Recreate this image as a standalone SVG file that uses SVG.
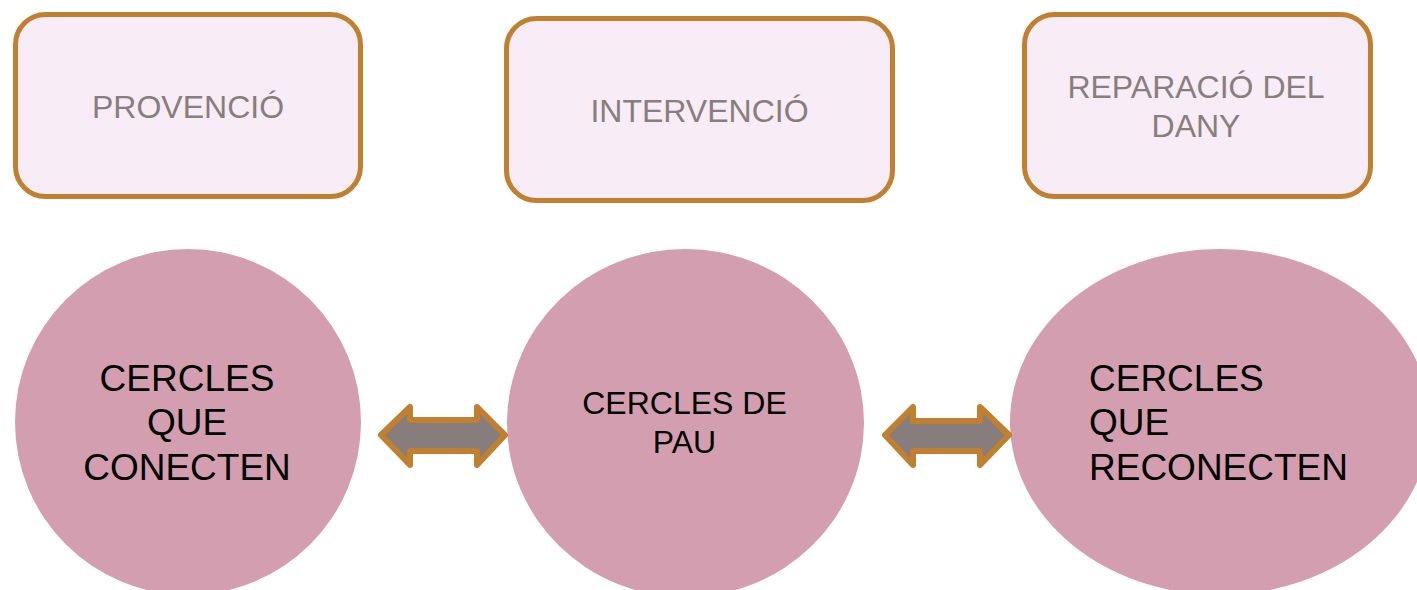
<svg xmlns="http://www.w3.org/2000/svg" width="1417" height="590" viewBox="0 0 1417 590">
<style>
.box{fill:#F8ECF6;stroke:#C08030;stroke-width:5}
.boxtxt{font-family:"Liberation Sans",Arial,sans-serif;font-size:32px;fill:#877E7E;text-anchor:middle}
.circ{fill:#D39EAF}
.ctxt{font-family:"Liberation Sans",Arial,sans-serif;font-size:37px;fill:#000}
.arrow{fill:#877D7C;stroke:#C08030;stroke-width:6;stroke-linejoin:round}
</style>
<rect width="1417" height="590" fill="#fff"/>
<g id="box-provencio">
<rect class="box" x="15.5" y="14.5" width="345" height="182" rx="30"/>
<text class="boxtxt" x="188" y="118">PROVENCIÓ</text>
</g>
<g id="box-intervencio">
<rect class="box" x="506.5" y="18.5" width="386" height="182" rx="30"/>
<text class="boxtxt" x="699.5" y="122">INTERVENCIÓ</text>
</g>
<g id="box-reparacio">
<rect class="box" x="1024.5" y="14.5" width="346" height="182" rx="30"/>
<text class="boxtxt" x="1196" y="98">REPARACIÓ DEL</text>
<text class="boxtxt" x="1196" y="137">DANY</text>
</g>
<g id="circle-conecten">
<ellipse class="circ" cx="188" cy="422" rx="173" ry="173"/>
<text class="ctxt" x="187" y="391" text-anchor="middle">CERCLES</text>
<text class="ctxt" x="187" y="435" text-anchor="middle">QUE</text>
<text class="ctxt" x="187" y="480" text-anchor="middle">CONECTEN</text>
</g>
<g id="circle-pau">
<ellipse class="circ" cx="685.5" cy="423" rx="178.5" ry="174"/>
<text class="ctxt" x="684.5" y="414" text-anchor="middle" style="font-size:32px">CERCLES DE</text>
<text class="ctxt" x="684.5" y="453" text-anchor="middle" style="font-size:32px">PAU</text>
</g>
<g id="circle-reconecten">
<ellipse class="circ" cx="1220" cy="422" rx="210" ry="173"/>
<text class="ctxt" x="1089" y="391">CERCLES</text>
<text class="ctxt" x="1089" y="435">QUE</text>
<text class="ctxt" x="1089" y="480">RECONECTEN</text>
</g>
<g id="connectors">
<polygon class="arrow" points="381,435 410,407 410,420 477,420 477,407 505,435 477,465 477,451 410,451 410,465"/>
<polygon class="arrow" points="885,435 913,407 913,421 980,421 980,407 1009,435 980,465 980,451 913,451 913,465"/>
</g>
</svg>
